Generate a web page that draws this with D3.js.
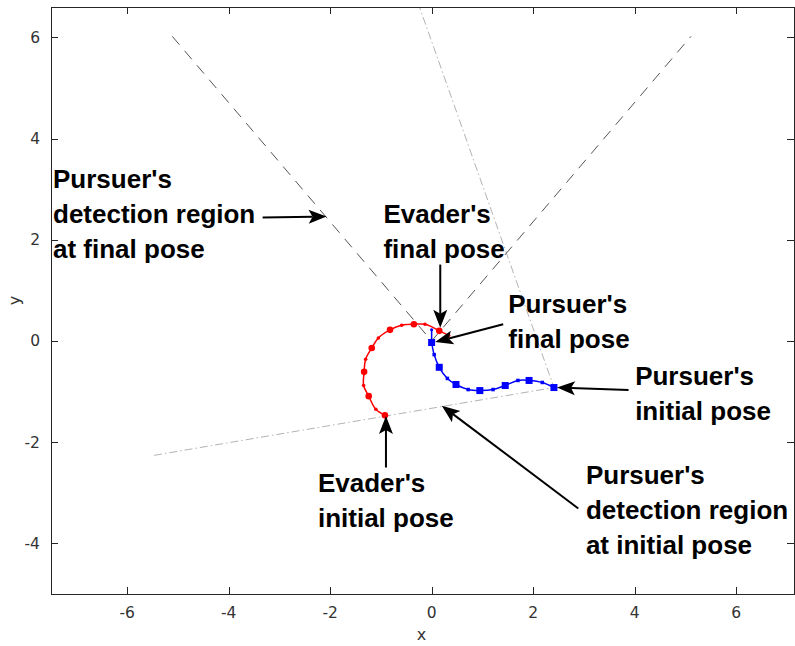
<!DOCTYPE html>
<html>
<head>
<meta charset="utf-8">
<script src="https://cdn.jsdelivr.net/npm/d3@7"></script>
<style>
  html, body { margin: 0; padding: 0; background: #fff; }
  svg { display: block; }
</style>
</head>
<body>
<svg id="chart" width="795" height="646"></svg>
<script>
// Axis ticks
const xTicks = [-6, -4, -2, 0, 2, 4, 6];
const yTicks = [-4, -2, 0, 2, 4, 6];

// Evader trajectory (initial -> final)
const evaderX = [-0.92, -1.10, -1.24, -1.34, -1.33, -1.30, -1.18, -1.05, -0.82, -0.59, -0.35, -0.13, 0.15];
const evaderY = [-1.47, -1.35, -1.09, -0.88, -0.61, -0.36, -0.14, 0.06, 0.22, 0.31, 0.33, 0.33, 0.20];
// Evader heading at final pose
const evaderHeadingX = [0.15, 0.34];
const evaderHeadingY = [0.20, 0.11];

// Pursuer trajectory (initial -> final)
const pursuerX = [2.41, 2.18, 1.92, 1.70, 1.45, 1.21, 0.95, 0.72, 0.48, 0.31, 0.15, 0.05, 0.00];
const pursuerY = [-0.92, -0.82, -0.78, -0.78, -0.88, -0.96, -0.98, -0.96, -0.86, -0.74, -0.52, -0.27, -0.03];
// Pursuer heading at final pose
const pursuerHeadingX = [0.00, 0.00];
const pursuerHeadingY = [-0.03, 0.22];

// Detection region boundaries (edge end, vertex, edge end)
const finalConeX = [-5.11, 0.00, 5.11];
const finalConeY = [6.02, 0.00, 6.02];
const initialConeX = [-5.47, 2.41, -0.25];
const initialConeY = [-2.26, -0.92, 6.63];

// Annotations: text lines, text anchor (data units), arrow tail and tip (data units)
const noteLines = [
  ["Pursuer's", "detection region", "at final pose"],
  ["Evader's", "final pose"],
  ["Pursuer's", "final pose"],
  ["Pursuer's", "initial pose"],
  ["Evader's", "initial pose"],
  ["Pursuer's", "detection region", "at initial pose"]
];
const noteTextX = [-7.46, -0.95, 1.51, 4.01, -2.24, 3.04];
const noteTextY = [3.02, 2.33, 0.55, -0.87, -2.98, -2.83];
const arrowTailX = [-3.33, 0.17, 1.41, 3.88, -0.90, 2.89];
const arrowTailY = [2.44, 1.51, 0.33, -0.97, -2.50, -3.31];
const arrowTipX = [-2.07, 0.17, 0.07, 2.47, -0.90, 0.20];
const arrowTipY = [2.46, 0.26, -0.02, -0.92, -1.48, -1.28];

const svg = d3.select("#chart");
const plotLeft = 51, plotRight = 794, plotTop = 7, plotBottom = 594;

const x = d3.scaleLinear().domain([-7.5, 7.14]).range([plotLeft, plotRight]);
const y = d3.scaleLinear().domain([-5, 6.6]).range([plotBottom, plotTop]);

const axisColor = "#262626";
const tickFont = "DejaVu Sans, sans-serif";

// Clip region for plotted data
svg.append("clipPath").attr("id", "plotClip")
  .append("rect").attr("x", plotLeft).attr("y", plotTop)
  .attr("width", plotRight - plotLeft).attr("height", plotBottom - plotTop);

const plot = svg.append("g").attr("clip-path", "url(#plotClip)");

const pts = (xs, ys) => xs.map((v, i) => [v, ys[i]]);
const line = d3.line().x(d => x(d[0])).y(d => y(d[1]));
const smooth = d3.line().x(d => x(d[0])).y(d => y(d[1])).curve(d3.curveCatmullRom.alpha(0.5));

// Detection region at initial pose (light dash-dot)
plot.append("path")
  .datum(pts(initialConeX, initialConeY))
  .attr("d", line)
  .attr("fill", "none")
  .attr("stroke", "#b3b3b3")
  .attr("stroke-width", 1)
  .attr("stroke-dasharray", "8,3,1.5,3");

// Detection region at final pose (dashed)
plot.append("path")
  .datum(pts(finalConeX, finalConeY))
  .attr("d", line)
  .attr("fill", "none")
  .attr("stroke", "#555555")
  .attr("stroke-width", 1)
  .attr("stroke-dasharray", "11,8");

// Trajectory with alternating large / small markers
function drawTrajectory(xs, ys, hx, hy, color, shape) {
  const p = pts(xs, ys);
  plot.append("path").datum(p).attr("d", smooth)
    .attr("fill", "none").attr("stroke", color).attr("stroke-width", 1.5);
  plot.append("path").datum(pts(hx, hy)).attr("d", line)
    .attr("fill", "none").attr("stroke", color).attr("stroke-width", 1.5);
  plot.append("circle")
    .attr("cx", x(hx[1])).attr("cy", y(hy[1])).attr("r", 1.6).attr("fill", color);
  const g = plot.append("g");
  p.forEach((d, i) => {
    const big = i % 2 === 0;
    if (shape === "circle") {
      g.append("circle").attr("cx", x(d[0])).attr("cy", y(d[1]))
        .attr("r", big ? 3.3 : 1.8).attr("fill", color);
    } else {
      const s = big ? 7 : 3.5;
      g.append("rect").attr("x", x(d[0]) - s / 2).attr("y", y(d[1]) - s / 2)
        .attr("width", s).attr("height", s).attr("fill", color);
    }
  });
}
drawTrajectory(evaderX, evaderY, evaderHeadingX, evaderHeadingY, "#ff0000", "circle");
drawTrajectory(pursuerX, pursuerY, pursuerHeadingX, pursuerHeadingY, "#0000ff", "square");

// Axes box with inward ticks on all four sides
const axes = svg.append("g");
axes.append("rect").attr("x", plotLeft).attr("y", plotTop)
  .attr("width", plotRight - plotLeft).attr("height", plotBottom - plotTop)
  .attr("fill", "none").attr("stroke", axisColor).attr("stroke-width", 1)
  .attr("shape-rendering", "crispEdges");

const tickLen = 7;
xTicks.forEach(t => {
  const px = Math.round(x(t)) + 0.5;
  axes.append("line").attr("x1", px).attr("x2", px).attr("y1", plotBottom).attr("y2", plotBottom - tickLen)
    .attr("stroke", axisColor).attr("shape-rendering", "crispEdges");
  axes.append("line").attr("x1", px).attr("x2", px).attr("y1", plotTop).attr("y2", plotTop + tickLen)
    .attr("stroke", axisColor).attr("shape-rendering", "crispEdges");
  axes.append("text").attr("x", x(t)).attr("y", plotBottom + 24)
    .attr("text-anchor", "middle").attr("font-family", tickFont).attr("font-size", 15.5)
    .attr("fill", "#333").text(t);
});
yTicks.forEach(t => {
  const py = Math.round(y(t)) + 0.5;
  axes.append("line").attr("x1", plotLeft).attr("x2", plotLeft + tickLen).attr("y1", py).attr("y2", py)
    .attr("stroke", axisColor).attr("shape-rendering", "crispEdges");
  axes.append("line").attr("x1", plotRight).attr("x2", plotRight - tickLen).attr("y1", py).attr("y2", py)
    .attr("stroke", axisColor).attr("shape-rendering", "crispEdges");
  axes.append("text").attr("x", plotLeft - 11).attr("y", y(t) + 5.5)
    .attr("text-anchor", "end").attr("font-family", tickFont).attr("font-size", 15.5)
    .attr("fill", "#333").text(t);
});

// Axis labels
svg.append("text").attr("x", (plotLeft + plotRight) / 2 - 1).attr("y", 640)
  .attr("text-anchor", "middle").attr("font-family", tickFont).attr("font-size", 16)
  .attr("fill", "#333").text("x");
svg.append("text")
  .attr("transform", `translate(20,${(plotTop + plotBottom) / 2}) rotate(-90)`)
  .attr("text-anchor", "middle").attr("font-family", tickFont).attr("font-size", 16)
  .attr("fill", "#333").text("y");

// Annotation texts and arrows
const notes = svg.append("g");
noteLines.forEach((lines, i) => {
  const t = notes.append("text")
    .attr("x", x(noteTextX[i])).attr("y", y(noteTextY[i]))
    .attr("font-family", "Liberation Sans, Arial, sans-serif")
    .attr("font-weight", "bold").attr("font-size", 26)
    .attr("fill", "#000");
  lines.forEach((s, j) => {
    t.append("tspan").attr("x", x(noteTextX[i])).attr("dy", j === 0 ? 0 : 35).text(s);
  });
});

function arrow(x1, y1, x2, y2) {
  const ang = Math.atan2(y2 - y1, x2 - x1);
  const L = 18, W = 7, notch = 4;
  const ca = Math.cos(ang), sa = Math.sin(ang);
  const bx = x2 - L * ca, by = y2 - L * sa;
  notes.append("line")
    .attr("x1", x1).attr("y1", y1)
    .attr("x2", x2 - (L - notch) * ca).attr("y2", y2 - (L - notch) * sa)
    .attr("stroke", "#000").attr("stroke-width", 2);
  const head = [
    [x2, y2],
    [bx - W * sa, by + W * ca],
    [x2 - (L - notch) * ca, y2 - (L - notch) * sa],
    [bx + W * sa, by - W * ca]
  ];
  notes.append("path").attr("d", "M" + head.map(p => p.join(",")).join("L") + "Z")
    .attr("fill", "#000");
}
arrowTailX.forEach((v, i) => {
  arrow(x(v), y(arrowTailY[i]), x(arrowTipX[i]), y(arrowTipY[i]));
});
</script>
</body>
</html>
